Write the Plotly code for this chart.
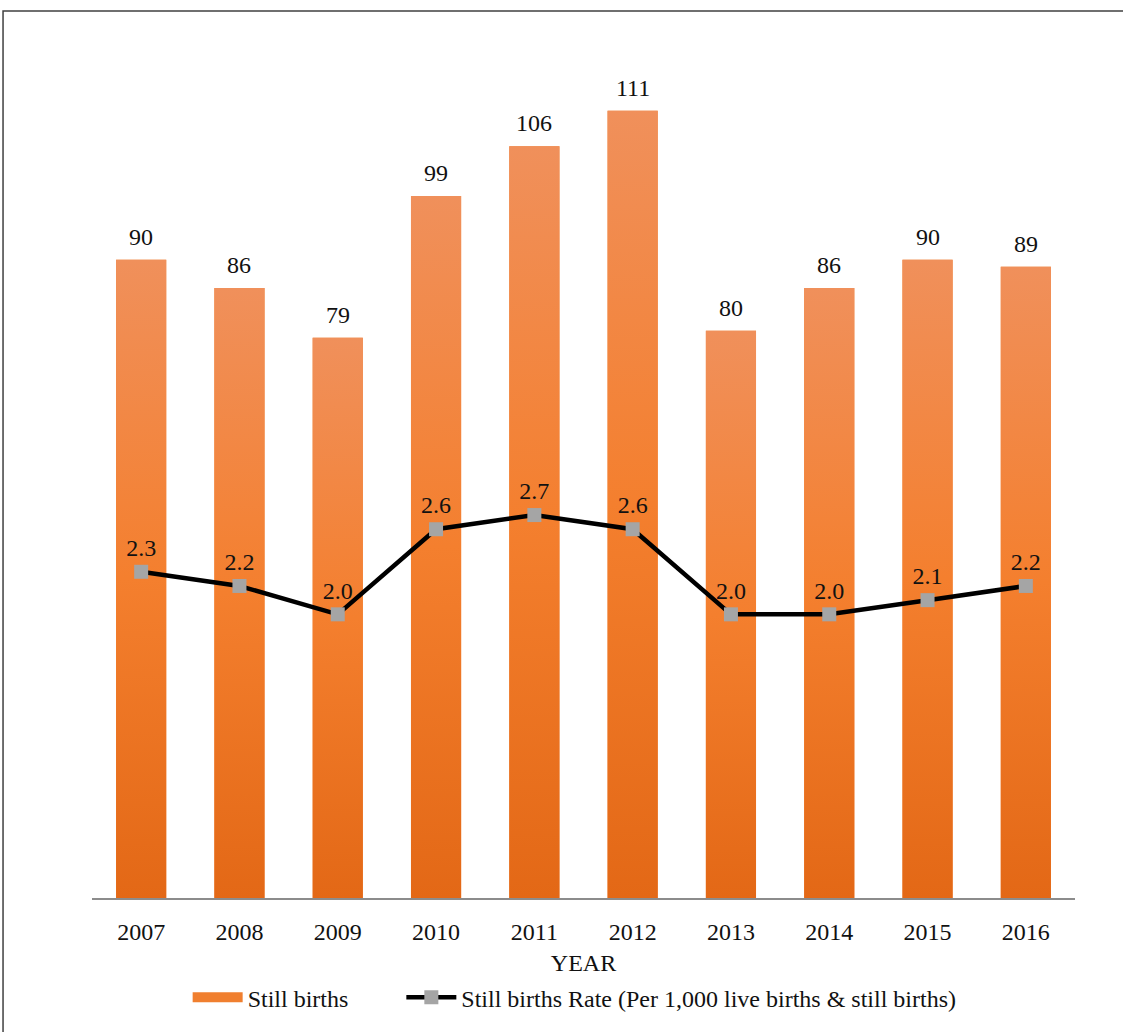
import plotly.graph_objects as go

years = ["2007", "2008", "2009", "2010", "2011", "2012", "2013", "2014", "2015", "2016"]
still_births = [90, 86, 79, 99, 106, 111, 80, 86, 90, 89]
rate = [2.3, 2.2, 2.0, 2.6, 2.7, 2.6, 2.0, 2.0, 2.1, 2.2]

FONT = "Liberation Serif, Times New Roman, serif"
FS = 24
BAR_W = 0.51
idx = list(range(len(years)))

fig = go.Figure()

# Base bar trace (solid fill)
fig.add_trace(go.Bar(
    x=idx, y=still_births, width=BAR_W, name="Still births",
    marker=dict(color="#F07F2F", line=dict(width=0)),
    showlegend=False, hoverinfo="x+y",
))

# Gradient overlay for each bar
for i, v in zip(idx, still_births):
    fig.add_trace(go.Scatter(
        x=[i - BAR_W / 2, i + BAR_W / 2, i + BAR_W / 2, i - BAR_W / 2, i - BAR_W / 2],
        y=[0, 0, v, v, 0],
        mode="lines", line=dict(width=0), fill="toself",
        fillgradient=dict(type="vertical",
                          colorscale=[[0, "#E36816"], [0.5, "#F47F2E"], [1, "#F0905B"]],
                          start=0, stop=v),
        showlegend=False, hoverinfo="skip",
    ))

# Legend swatch for bars
fig.add_trace(go.Scatter(
    x=[None], y=[None], mode="lines", name="Still births" + "&nbsp;" * 8,
    line=dict(color="#F07F2F", width=14),
))

fig.add_trace(go.Scatter(
    x=idx, y=rate, yaxis="y2", name="Still births Rate (Per 1,000 live births & still births)",
    mode="lines+markers+text",
    line=dict(color="#000000", width=4.5),
    marker=dict(symbol="square", size=14, color="#A5A5A5"),
    texttemplate="%{y:.1f}", textposition="top center",
    textfont=dict(family=FONT, size=FS, color="#111111"),
    cliponaxis=False,
))

bar_labels = [dict(x=i, y=v, xref="x", yref="y", text=str(v), showarrow=False,
                   yanchor="bottom", yshift=9, borderpad=0,
                   font=dict(family=FONT, size=FS, color="#111111"))
              for i, v in zip(idx, still_births)]

fig.update_layout(
    width=1123, height=1032,
    margin=dict(l=92, r=48, t=47, b=132),
    paper_bgcolor="white", plot_bgcolor="white",
    font=dict(family=FONT, size=FS, color="#111111"),
    xaxis=dict(
        range=[-0.5, len(years) - 0.5],
        tickmode="array", tickvals=idx, ticktext=years,
        showgrid=False, zeroline=False,
        showline=True, linecolor="#8C8C8C", linewidth=2,
        ticks="", ticklabelstandoff=11,
        tickfont=dict(family=FONT, size=FS, color="#111111"),
        title=dict(text="YEAR", font=dict(family=FONT, size=FS, color="#111111"), standoff=10),
    ),
    yaxis=dict(range=[0, 120], visible=False, showgrid=False, zeroline=False),
    yaxis2=dict(range=[0, 6], overlaying="y", visible=False, showgrid=False, zeroline=False),
    showlegend=True,
    legend=dict(orientation="h", x=0.491, xanchor="center", y=-0.117, yanchor="middle",
                font=dict(family=FONT, size=FS, color="#111111"),
                bgcolor="rgba(0,0,0,0)", itemwidth=50, tracegroupgap=0),
    annotations=bar_labels,
    shapes=[dict(type="rect", xref="paper", yref="paper",
                 x0=-0.0905, x1=1.2, y0=-0.2, y1=1.0422,
                 line=dict(color="#404040", width=1.5), fillcolor="rgba(0,0,0,0)", layer="above")],
)

fig.write_html("out.html", post_script="document.body.style.margin='0';",
               config={"displayModeBar": False})
